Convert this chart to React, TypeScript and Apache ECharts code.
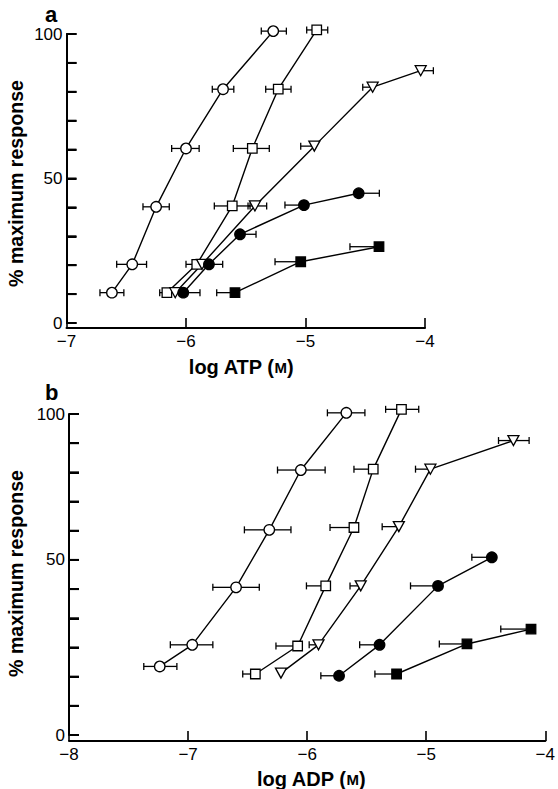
import React, { useEffect, useRef } from "react";
import * as echarts from "echarts";

// ---------- Panel a: log ATP (M) ----------
const atpXTicks = [-7, -6, -5, -4];
const atpYTicks = [0, 10, 20, 30, 40, 50, 60, 70, 80, 90, 100];
const atpYLabels = [0, 50, 100];
const atpYLabelText = ["0", "50", "100"];

const atpOpenCircleX = [-6.62, -6.45, -6.25, -6.0, -5.69, -5.27];
const atpOpenCircleY = [10.5, 20.3, 40.2, 60.4, 80.9, 101];
const atpOpenCircleLo = [-6.72, -6.58, -6.36, -6.12, -5.78, -5.37];
const atpOpenCircleHi = [-6.52, -6.33, -6.14, -5.89, -5.6, -5.16];

const atpOpenSquareX = [-6.16, -5.91, -5.613, -5.445, -5.228, -4.906];
const atpOpenSquareY = [10.5, 20.3, 40.5, 60.4, 80.9, 101.4];
const atpOpenSquareLo = [-6.22, -6.0, -5.763, -5.604, -5.333, -4.99];
const atpOpenSquareHi = [-6.16, -5.91, -5.464, -5.303, -5.121, -4.814];

const atpTriangleX = [-6.09, -5.866, -5.423, -4.926, -4.438, -4.036];
const atpTriangleY = [10.5, 20.3, 40.5, 61.2, 81.6, 87.3];
const atpTriangleLo = [-6.09, -5.866, -5.481, -5.04, -4.521, -4.036];
const atpTriangleHi = [-6.09, -5.866, -5.325, -4.926, -4.438, -3.93];

const atpFilledCircleX = [-6.023, -5.808, -5.548, -5.013, -4.555];
const atpFilledCircleY = [10.5, 20.3, 30.7, 40.8, 44.9];
const atpFilledCircleLo = [-6.023, -5.808, -5.548, -5.172, -4.555];
const atpFilledCircleHi = [-5.883, -5.693, -5.414, -5.013, -4.382];

const atpFilledSquareX = [-5.59, -5.04, -4.385];
const atpFilledSquareY = [10.5, 21.2, 26.4];
const atpFilledSquareLo = [-5.743, -5.255, -4.628];
const atpFilledSquareHi = [-5.59, -5.04, -4.385];

// ---------- Panel b: log ADP (M) ----------
const adpXTicks = [-8, -7, -6, -5, -4];
const adpYTicks = [-10, 0, 10, 20, 30, 40, 50, 60, 70, 80, 90, 100];
const adpYLabels = [-10, 50, 100];
const adpYLabelText = ["0", "50", "100"];

const adpOpenCircleX = [-7.238, -6.965, -6.597, -6.318, -6.053, -5.671];
const adpOpenCircleY = [13.5, 20.9, 40.6, 60.3, 80.8, 100.4];
const adpOpenCircleLo = [-7.372, -7.149, -6.792, -6.527, -6.249, -5.83];
const adpOpenCircleHi = [-7.094, -6.792, -6.402, -6.136, -5.849, -5.515];

const adpOpenSquareX = [-6.435, -6.08, -5.844, -5.607, -5.445, -5.208];
const adpOpenSquareY = [10.9, 20.5, 41.1, 61.1, 81.1, 101.6];
const adpOpenSquareLo = [-6.541, -6.262, -6.006, -5.808, -5.607, -5.341];
const adpOpenSquareHi = [-6.435, -6.08, -5.844, -5.607, -5.445, -5.063];

const adpTriangleX = [-6.22, -5.905, -5.55, -5.23, -4.965, -4.268];
const adpTriangleY = [11.2, 20.9, 41.1, 61.4, 81.1, 90.9];
const adpTriangleLo = [-6.22, -5.983, -5.64, -5.37, -5.09, -4.393];
const adpTriangleHi = [-6.22, -5.905, -5.55, -5.23, -4.965, -4.136];

const adpFilledCircleX = [-5.732, -5.392, -4.901, -4.449];
const adpFilledCircleY = [10.3, 20.9, 41.1, 50.9];
const adpFilledCircleLo = [-5.885, -5.559, -5.132, -4.617];
const adpFilledCircleHi = [-5.732, -5.392, -4.901, -4.449];

const adpFilledSquareX = [-5.249, -4.658, -4.12];
const adpFilledSquareY = [10.9, 21.2, 26.3];
const adpFilledSquareLo = [-5.431, -4.89, -4.374];
const adpFilledSquareHi = [-5.249, -4.658, -4.12];

const FONT = "'Liberation Sans', Arial, Helvetica, sans-serif";

type Kind = "openCircle" | "openSquare" | "triangle" | "filledCircle" | "filledSquare";

function markerFor(kind: Kind) {
  switch (kind) {
    case "openCircle":
      return { symbol: "circle", symbolSize: 10.5, rotate: 0, fill: "#fff" };
    case "openSquare":
      return { symbol: "rect", symbolSize: 9.5, rotate: 0, fill: "#fff" };
    case "triangle":
      return { symbol: "triangle", symbolSize: [11, 10], rotate: 180, fill: "#fff" };
    case "filledCircle":
      return { symbol: "circle", symbolSize: 10.5, rotate: 0, fill: "#000" };
    default:
      return { symbol: "rect", symbolSize: 9.5, rotate: 0, fill: "#000" };
  }
}

function makeSeries(
  gridIndex: number,
  name: string,
  kind: Kind,
  xs: number[],
  ys: number[],
  lo: number[],
  hi: number[]
) {
  const m = markerFor(kind);
  const errData = xs.map((x, i) => [x, lo[i], hi[i], ys[i]]);
  const lineData = xs.map((x, i) => [x, ys[i]]);
  const err = {
    type: "custom",
    name: name + " error",
    xAxisIndex: gridIndex,
    yAxisIndex: gridIndex,
    clip: false,
    z: 2,
    silent: true,
    encode: { x: [0, 1, 2], y: 3 },
    data: errData,
    renderItem: (_params: any, api: any) => {
      const x = api.value(0);
      const l = api.value(1);
      const h = api.value(2);
      const y = api.value(3);
      const c = api.coord([x, y]);
      const cap = 3.5;
      const st = { stroke: "#000", lineWidth: 1.3 };
      const children: any[] = [];
      if (l < x) {
        const p = api.coord([l, y]);
        children.push({ type: "line", shape: { x1: p[0], y1: p[1], x2: c[0], y2: c[1] }, style: st });
        children.push({ type: "line", shape: { x1: p[0], y1: p[1] - cap, x2: p[0], y2: p[1] + cap }, style: st });
      }
      if (h > x) {
        const p = api.coord([h, y]);
        children.push({ type: "line", shape: { x1: c[0], y1: c[1], x2: p[0], y2: p[1] }, style: st });
        children.push({ type: "line", shape: { x1: p[0], y1: p[1] - cap, x2: p[0], y2: p[1] + cap }, style: st });
      }
      return { type: "group", children };
    },
  };
  const line = {
    type: "line",
    name,
    xAxisIndex: gridIndex,
    yAxisIndex: gridIndex,
    data: lineData,
    clip: false,
    z: 3,
    showAllSymbol: true,
    symbol: m.symbol,
    symbolSize: m.symbolSize,
    symbolRotate: m.rotate,
    lineStyle: { color: "#000", width: 1.4 },
    itemStyle: { color: m.fill, borderColor: "#000", borderWidth: 1.3 },
  };
  return [err, line];
}

// inward y-axis tick marks, anchored on the y axis (x = axis min) at each tick value
function yTickSeries(gridIndex: number, xMin: number, ticks: number[]) {
  return {
    type: "custom",
    xAxisIndex: gridIndex,
    yAxisIndex: gridIndex,
    clip: false,
    z: 50,
    encode: { x: 0, y: 1 },
    data: ticks.map((t) => [xMin, t]),
    renderItem: (_p: any, api: any) => {
      const p = api.coord([api.value(0), api.value(1)]);
      return { type: "rect", shape: { x: p[0], y: p[1] - 1, width: 10, height: 2 }, style: { fill: "#000" } };
    },
  };
}

const minusFmt = (v: number) => (v < 0 ? "\u2212" + Math.abs(v) : String(v));

function xAxisDef(gridIndex: number, ticks: number[], offset: number) {
  return {
    type: "value",
    gridIndex,
    min: ticks[0],
    max: ticks[ticks.length - 1],
    interval: 1,
    offset,
    splitLine: { show: false },
    axisLine: { show: true, onZero: false, lineStyle: { color: "#000", width: 2 } },
    axisTick: { show: true, inside: true, length: 10, lineStyle: { color: "#000", width: 1.6 } },
    axisLabel: { fontSize: 17, color: "#000", fontFamily: FONT, margin: 5, formatter: minusFmt },
  };
}

function yAxisDef(gridIndex: number, ticks: number[], labels: number[], texts: string[]) {
  return {
    type: "value",
    gridIndex,
    min: ticks[0],
    max: ticks[ticks.length - 1],
    interval: 10,
    splitLine: { show: false },
    axisLine: { show: true, lineStyle: { color: "#000", width: 2 } },
    axisTick: { show: true, inside: true, length: 10, lineStyle: { color: "#000", width: 2 } },
    axisLabel: {
      fontSize: 17,
      color: "#000",
      fontFamily: FONT,
      margin: 4,
      formatter: (v: number) => {
        const i = labels.indexOf(v);
        return i >= 0 ? texts[i] : "";
      },
    },
  };
}

export default function App() {
  const ref = useRef<HTMLDivElement>(null);
  useEffect(() => {
    if (!ref.current) return;
    const chart = echarts.init(ref.current, undefined, { renderer: "svg" });
    const series = [
      ...makeSeries(0, "ATP open circle", "openCircle", atpOpenCircleX, atpOpenCircleY, atpOpenCircleLo, atpOpenCircleHi),
      ...makeSeries(0, "ATP open square", "openSquare", atpOpenSquareX, atpOpenSquareY, atpOpenSquareLo, atpOpenSquareHi),
      ...makeSeries(0, "ATP triangle", "triangle", atpTriangleX, atpTriangleY, atpTriangleLo, atpTriangleHi),
      ...makeSeries(0, "ATP filled circle", "filledCircle", atpFilledCircleX, atpFilledCircleY, atpFilledCircleLo, atpFilledCircleHi),
      ...makeSeries(0, "ATP filled square", "filledSquare", atpFilledSquareX, atpFilledSquareY, atpFilledSquareLo, atpFilledSquareHi),
      ...makeSeries(1, "ADP open circle", "openCircle", adpOpenCircleX, adpOpenCircleY, adpOpenCircleLo, adpOpenCircleHi),
      ...makeSeries(1, "ADP open square", "openSquare", adpOpenSquareX, adpOpenSquareY, adpOpenSquareLo, adpOpenSquareHi),
      ...makeSeries(1, "ADP triangle", "triangle", adpTriangleX, adpTriangleY, adpTriangleLo, adpTriangleHi),
      ...makeSeries(1, "ADP filled circle", "filledCircle", adpFilledCircleX, adpFilledCircleY, adpFilledCircleLo, adpFilledCircleHi),
      ...makeSeries(1, "ADP filled square", "filledSquare", adpFilledSquareX, adpFilledSquareY, adpFilledSquareLo, adpFilledSquareHi),
      yTickSeries(0, atpXTicks[0], atpYTicks),
      yTickSeries(1, adpXTicks[0], adpYTicks),
    ];
    const titleStyle = { fill: "#000", fontSize: 20, fontWeight: "bold", fontFamily: FONT };
    chart.setOption({
      animation: false,
      backgroundColor: "#fff",
      grid: [
        { left: 66.5, right: 133, top: 34, bottom: 466 },
        { left: 69, right: 11, top: 414, bottom: 54 },
      ],
      xAxis: [xAxisDef(0, atpXTicks, 5), xAxisDef(1, adpXTicks, 6)],
      yAxis: [
        yAxisDef(0, atpYTicks, atpYLabels, atpYLabelText),
        yAxisDef(1, adpYTicks, adpYLabels, adpYLabelText),
      ],
      graphic: [
        { type: "text", x: 45, y: 14, style: { text: "a", ...titleStyle, fontSize: 22, verticalAlign: "middle" } },
        { type: "text", x: 45, y: 392, style: { text: "b", ...titleStyle, fontSize: 22, verticalAlign: "middle" } },
        {
          type: "text",
          x: 16,
          y: 183.5,
          rotation: Math.PI / 2,
          style: { text: "% maximum response", ...titleStyle, fontSize: 19.6, align: "center", verticalAlign: "middle" },
        },
        {
          type: "text",
          x: 16,
          y: 573.5,
          rotation: Math.PI / 2,
          style: { text: "% maximum response", ...titleStyle, fontSize: 19.6, align: "center", verticalAlign: "middle" },
        },
        {
          type: "text",
          x: 241,
          y: 367,
          style: {
            text: "log ATP ({sc|M})",
            ...titleStyle,
            align: "center",
            verticalAlign: "middle",
            rich: { sc: { fontSize: 15, fontWeight: "bold", fontFamily: FONT, fill: "#000" } },
          },
        },
        {
          type: "text",
          x: 311,
          y: 779,
          style: {
            text: "log ADP ({sc|M})",
            ...titleStyle,
            align: "center",
            verticalAlign: "middle",
            rich: { sc: { fontSize: 15, fontWeight: "bold", fontFamily: FONT, fill: "#000" } },
          },
        },
      ],
      series,
    });
    return () => chart.dispose();
  }, []);
  return (
    <div
      ref={ref}
      style={{ position: "absolute", left: 0, top: 0, width: 558, height: 789, background: "#fff" }}
    />
  );
}
